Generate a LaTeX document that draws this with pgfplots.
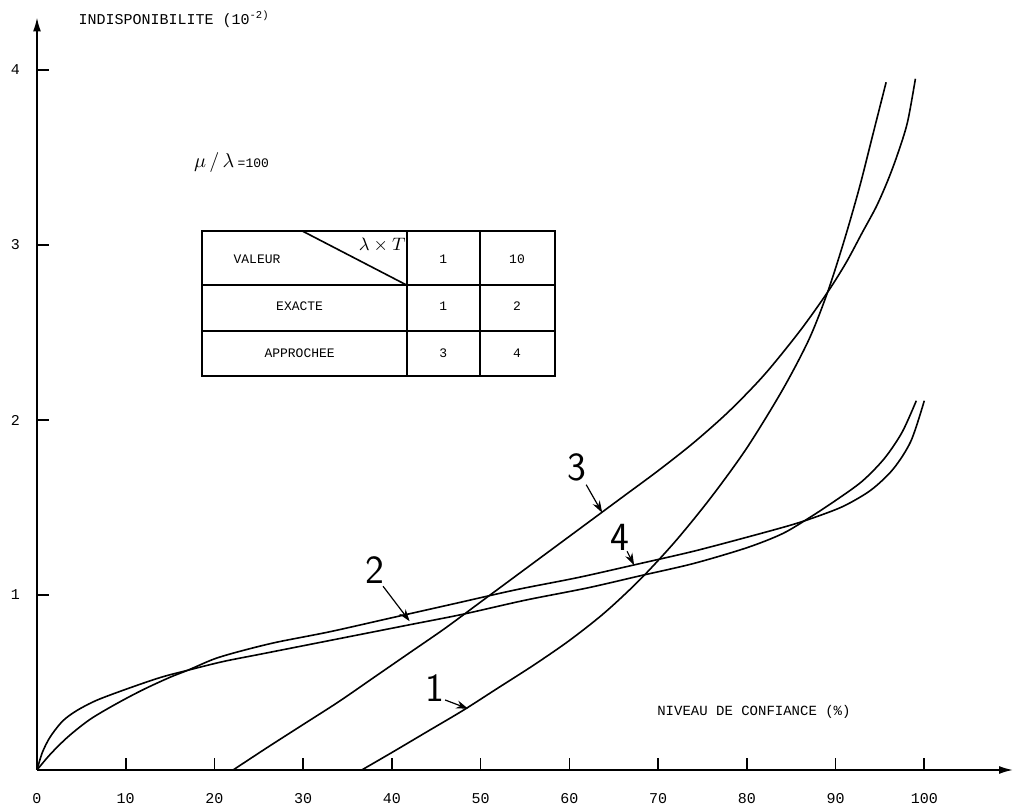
\documentclass[border=0pt]{standalone}
\usepackage{pgfplots}
\pgfplotsset{compat=1.18}
\usepackage{fontspec}
\setmonofont{Liberation Mono}
\usetikzlibrary{arrows.meta}

\pgfplotsset{curve/.style={black, line width=0.8pt, smooth, tension=0.5, no marks}}

\begin{document}
\begin{tikzpicture}
\begin{axis}[
  scale only axis, width=488pt, height=376.25pt,
  xmin=0, xmax=110, ymin=0, ymax=4.3,
  axis lines=left,
  axis line style={line width=0.8pt, -{Latex[length=7pt,width=4pt]}},
  xtick={0,10,...,100}, ytick={1,2,3,4},
  tick align=inside, major tick length=6pt,
  tick style={line width=0.8pt, black},
  ticklabel style={font=\ttfamily\fontsize{7.5}{8}\selectfont},
  /pgf/number format/assume math mode=true,
  xticklabel style={yshift=-8pt},
  yticklabel style={xshift=-5pt},
  clip=false,
]
% 1 : exacte, lambda T = 1
\addplot[curve] coordinates {
  (36.6,0) (40,0.10) (44,0.22) (48,0.34) (52,0.47) (56,0.60) (60,0.74)
  (64,0.90) (68,1.09) (72,1.31) (76,1.56) (80,1.84) (84,2.17) (87,2.46)
  (89.1,2.73) (91,3.03) (92.7,3.33) (94.2,3.63) (95.7,3.93)
};
% 3 : approchee, lambda T = 1
\addplot[curve] coordinates {
  (22.1,0) (26,0.13) (30,0.26) (34,0.39) (38,0.53) (42,0.67) (46,0.81)
  (50,0.96) (54,1.11) (58,1.26) (62,1.41) (66,1.56) (70,1.71) (74,1.87)
  (78,2.05) (82,2.26) (86,2.51) (89.1,2.73) (91.2,2.90) (93,3.07)
  (94.6,3.22) (95.9,3.37) (97,3.52) (98.1,3.70) (99,3.95)
};
% 2 : exacte, lambda T = 10
\addplot[curve] coordinates {
  (0,0) (0.6,0.10) (1.5,0.19) (2.9,0.28) (4.5,0.34) (6.8,0.40) (10.5,0.47)
  (14,0.53) (17,0.57) (21,0.62) (25,0.66) (30,0.71) (36,0.77) (42,0.83)
  (48,0.89) (55,0.97) (62,1.04) (68,1.11) (74,1.18) (80,1.27) (84,1.35)
  (87,1.44) (90,1.54) (93,1.65) (95.5,1.78) (97.5,1.93) (99.1,2.11)
};
% 4 : approchee, lambda T = 10
\addplot[curve] coordinates {
  (0,0) (1.5,0.09) (3.5,0.19) (6,0.29) (9,0.38) (12,0.46) (15,0.53)
  (17,0.57) (20,0.635) (23,0.68) (27,0.73) (33,0.79) (40,0.87) (47,0.95)
  (54,1.03) (61,1.10) (68,1.18) (74,1.25) (80,1.33) (85,1.40) (88,1.45)
  (91,1.51) (94,1.60) (96.5,1.72) (98.5,1.88) (100,2.11)
};

% axis titles
\node[anchor=west, font=\ttfamily\fontsize{7.5}{8}\selectfont] at (axis cs:3.9,4.29)
  {INDISPONIBILITE (10\textsuperscript{-2)}};
\node[font=\ttfamily\fontsize{7}{8}\selectfont] at (axis cs:80.8,0.33)
  {NIVEAU DE CONFIANCE (\%)};
\node[anchor=west] at (axis cs:16.9,3.47)
  {$\mu\,/\,\lambda$\,{\ttfamily\fontsize{6.5}{7}\selectfont =100}};

% table
\draw[line width=0.8pt] (axis cs:18.6,2.25) rectangle (axis cs:58.4,3.08);
\draw[line width=0.8pt] (axis cs:18.6,2.77) -- (axis cs:58.4,2.77);
\draw[line width=0.8pt] (axis cs:18.6,2.51) -- (axis cs:58.4,2.51);
\draw[line width=0.8pt] (axis cs:41.7,2.25) -- (axis cs:41.7,3.08);
\draw[line width=0.8pt] (axis cs:49.9,2.25) -- (axis cs:49.9,3.08);
\draw[line width=0.8pt] (axis cs:29.9,3.08) -- (axis cs:41.7,2.77);
\begin{scope}[every node/.style={font=\ttfamily\fontsize{6.5}{7}\selectfont}]
  \node at (axis cs:24.8,2.92) {VALEUR};
  \node[font=\small] at (axis cs:38.9,3.0) {$\lambda\times T$};
  \node at (axis cs:45.8,2.92) {1};
  \node at (axis cs:54.1,2.92) {10};
  \node at (axis cs:29.6,2.65) {EXACTE};
  \node at (axis cs:45.8,2.65) {1};
  \node at (axis cs:54.1,2.65) {2};
  \node at (axis cs:29.6,2.38) {APPROCHEE};
  \node at (axis cs:45.8,2.38) {3};
  \node at (axis cs:54.1,2.38) {4};
\end{scope}

% curve labels
\begin{scope}[every node/.style={font=\sffamily\fontsize{20}{20}\selectfont}]
  \node at (axis cs:60.9,1.73) {3};
  \node at (axis cs:65.7,1.33) {4};
  \node at (axis cs:38.1,1.14) {2};
  \node at (axis cs:44.8,0.47) {1};
\end{scope}
\begin{scope}[line width=0.6pt, -{Stealth[length=6pt,width=4pt]}]
  \draw (axis cs:61.9,1.63) -- (axis cs:63.7,1.47);
  \draw (axis cs:66.5,1.25) -- (axis cs:67.3,1.17);
  \draw (axis cs:39.0,1.05) -- (axis cs:42.0,0.85);
  \draw (axis cs:46.0,0.40) -- (axis cs:48.6,0.35);
\end{scope}
\end{axis}
\pgfresetboundingbox
\useasboundingbox (-18.5pt,-21pt) rectangle (489.5pt,385pt);
\end{tikzpicture}
\end{document}
